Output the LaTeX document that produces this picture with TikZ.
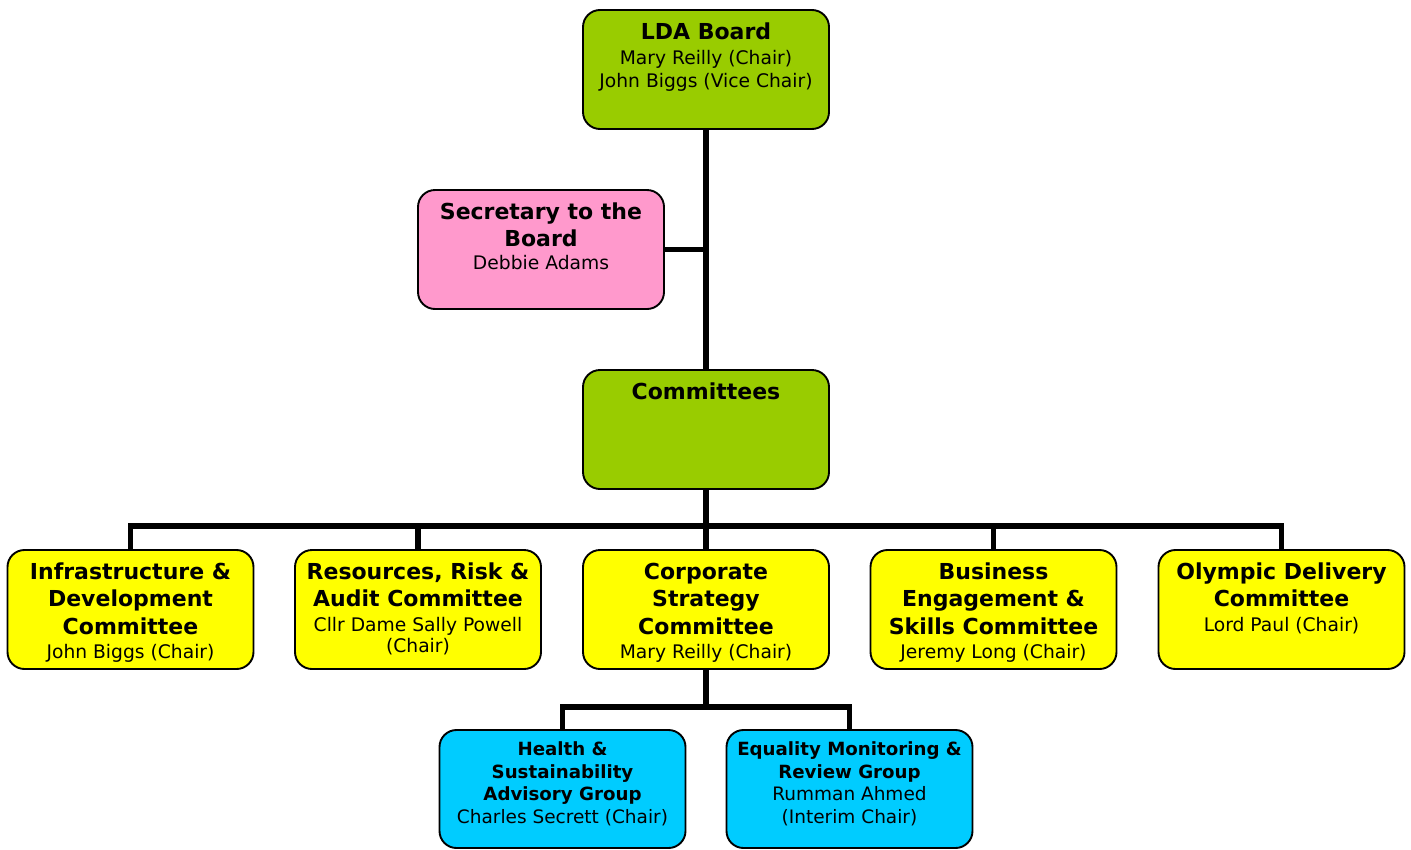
\documentclass[tikz,border=0pt]{standalone}
\usepackage{fontspec}
\setmainfont{DejaVu Sans}
\usetikzlibrary{backgrounds}
\definecolor{ldagreen}{HTML}{99CC00}
\definecolor{secpink}{HTML}{FF99CC}
\definecolor{comyellow}{HTML}{FFFF00}
\definecolor{grpcyan}{HTML}{00CCFF}
\newcommand{\hdB}{\bfseries\fontsize{22}{27.5}\selectfont}
\newcommand{\hdR}{\mdseries\fontsize{18.7}{23}\selectfont}
\newcommand{\sbB}{\bfseries\fontsize{18.2}{22.6}\selectfont}
\newcommand{\sbR}{\mdseries\fontsize{18.5}{22.6}\selectfont}
\newcommand{\boxtext}[3]{\parbox[c][#1][t]{246pt}{\centering\rule{0pt}{#2}#3}}
\begin{document}
\begin{tikzpicture}[x=1pt,y=-1pt,
  box/.style={draw=black, line width=1.9pt, rounded corners=17pt, inner sep=0pt, outer sep=0pt},
  conn/.style={line width=5.5pt, draw=black}]
\useasboundingbox (0,0) rectangle (1411,849);

% top level
\node[box, fill=ldagreen] (lda) at (706,69.5) {\boxtext{119pt}{29pt}{{\hdB LDA Board\par}\vspace{2pt}{\hdR Mary Reilly (Chair)\par John Biggs (Vice Chair)\par}}};
\node[box, fill=secpink] (sec) at (541,249.5) {\boxtext{119pt}{29pt}{{\hdB Secretary to the\par Board\par}{\hdR Debbie Adams\par}}};
\node[box, fill=ldagreen] (com) at (706,429.5) {\boxtext{119pt}{29pt}{{\hdB Committees\par}}};

% committees row
\node[box, fill=comyellow] (infra) at (130.5,609.5) {\boxtext{119pt}{29pt}{{\hdB Infrastructure \&\par Development\par Committee\par}\vspace{1pt}{\hdR John Biggs (Chair)\par}}};
\node[box, fill=comyellow] (risk) at (418,609.5) {\boxtext{119pt}{29pt}{{\hdB Resources, Risk \&\par Audit Committee\par}\vspace{3pt}{\hdR\fontsize{18.7}{21.5}\selectfont Cllr Dame Sally Powell\par (Chair)\par}}};
\node[box, fill=comyellow] (corp) at (706,609.5) {\boxtext{119pt}{29pt}{{\hdB Corporate\par Strategy\par Committee\par}\vspace{1pt}{\hdR Mary Reilly (Chair)\par}}};
\node[box, fill=comyellow] (busi) at (993.5,609.5) {\boxtext{119pt}{29pt}{{\hdB Business\par Engagement \&\par Skills Committee\par}\vspace{1pt}{\hdR Jeremy Long (Chair)\par}}};
\node[box, fill=comyellow] (olym) at (1281.5,609.5) {\boxtext{119pt}{29pt}{{\hdB Olympic Delivery\par Committee\par}\vspace{2pt}{\hdR Lord Paul (Chair)\par}}};

% sub groups
\node[box, fill=grpcyan] (health) at (562.5,789) {\boxtext{118pt}{25.5pt}{{\sbB Health \&\par Sustainability\par Advisory Group\par}{\sbR Charles Secrett (Chair)\par}}};
\node[box, fill=grpcyan] (equal) at (849.5,789) {\boxtext{118pt}{25.5pt}{{\sbB Equality Monitoring \&\par Review Group\par}{\sbR Rumman Ahmed\par (Interim Chair)\par}}};

\coordinate (bus) at (706,526);
\coordinate (sub) at (706,707);
\begin{scope}[on background layer]
\draw[conn] (lda.south) -- (com.north);
\draw[conn] (sec.east) -- (sec.east -| lda.south);
\draw[conn] (com.south) -- (corp.north);
\draw[conn] (infra.north) |- (bus) -| (olym.north);
\draw[conn] (risk.north) -- (risk.north |- bus);
\draw[conn] (busi.north) -- (busi.north |- bus);
\draw[conn] (corp.south) -- (sub);
\draw[conn] (health.north) |- (sub) -| (equal.north);
\end{scope}
\end{tikzpicture}
\end{document}
